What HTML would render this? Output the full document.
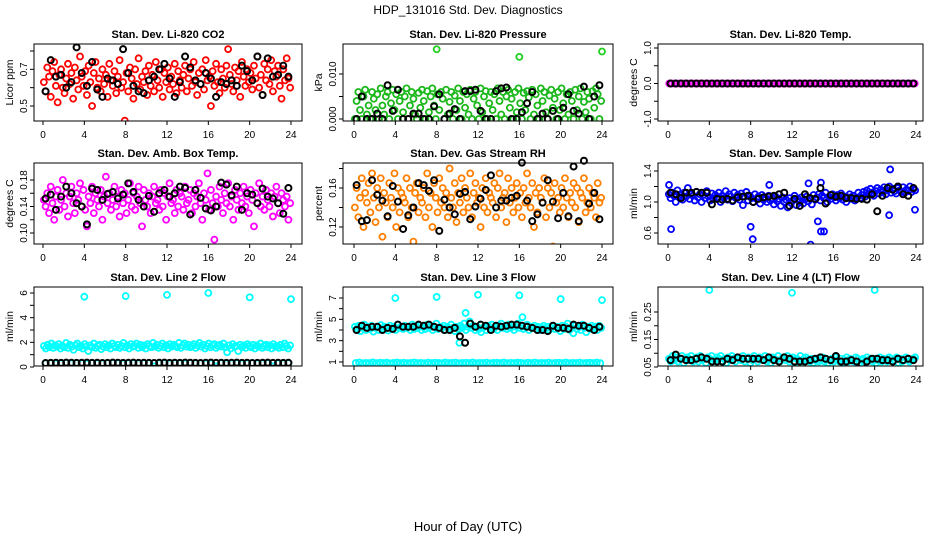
<!DOCTYPE html>
<html><head><meta charset="utf-8"><style>
html,body{margin:0;padding:0;background:#fff}
svg{display:block;font-family:"Liberation Sans",Arial,sans-serif}
</style></head><body>
<svg id="c" width="936" height="540" viewBox="0 0 936 540">
<rect width="936" height="540" fill="#fff"/>
<text x="468" y="14" text-anchor="middle" font-size="12">HDP_131016  Std. Dev. Diagnostics</text>
<text x="468" y="531" text-anchor="middle" font-size="13">Hour of Day (UTC)</text>
</svg>
<script>
// ---- data ----
const co2Main=[.63,.58,.71,.66,.55,.69,.74,.61,.52,.67,.7,.6,.57,.65,.73,.62,.68,.54,.71,.64,.59,.77,.66,.61,.69,.56,.72,.63,.5,.68,.74,.6,.65,.58,.7,.62,.67,.55,.73,.64,
.61,.69,.57,.66,.75,.6,.63,.42,.68,.58,.71,.65,.54,.7,.62,.76,.59,.66,.63,.69,.56,.72,.61,.67,.58,.74,.64,.6,.7,.55,.68,.63,.71,.59,.66,.62,.73,.57,.69,.64,
.6,.67,.72,.58,.65,.7,.61,.74,.63,.56,.68,.62,.7,.59,.75,.64,.66,.5,.69,.61,.73,.63,.57,.7,.65,.6,.72,.81,.67,.62,.58,.71,.64,.69,.55,.74,.66,.61,.7,.63,
.68,.59,.72,.65,.77,.6,.67,.56,.73,.64,.7,.62,.75,.58,.69,.66,.72,.61,.54,.7,.64,.76,.65,.6];
const co2Black=[.58,.75,.66,.67,.6,.63,.82,.68,.61,.74,.59,.55,.65,.64,.62,.81,.68,.61,.58,.57,.64,.66,.7,.73,.65,.55,.63,.77,.71,.64,.62,.68,.65,.55,.63,.62,.64,.61,.72,.69,.64,.77,.56,.76,.66,.67,.72,.66];
const presMain=[0,.004,.006,.002,0,.005,.0065,.001,.003,0,.006,.0045,.002,.0055,0,.0068,.003,.001,.005,.006,0,.0035,.0065,.002,.0055,0,.004,.006,.0015,.005,.0068,0,.003,.006,.0045,.001,0,.0058,.0025,.0065,
.004,0,.0062,.0015,.005,.0068,.003,0,.0055,.002,.006,.0045,0,.0065,.001,.0038,.006,0,.0052,.002,.0068,.004,0,.006,.0025,.0055,.001,.0065,0,.0045,.006,.003,0,.0068,.0015,.005,.0062,0,.0035,.006,
.002,.0055,0,.0068,.004,.001,.006,0,.005,.0065,.0025,.0045,0,.006,.0015,.0068,.0035,0,.0058,.002,.0062,.0048,0,.0065,.001,.0055,.003,0,.0068,.004,.006,.0015,0,.0052,.0065,.0025,.0045,0,.006,.002,
.0068,.0035,0,.0055,.001,.006,.004,0,.0065,.002,.005,.0068,0,.0038,.0015,.006,.0045,0,.0062,.0025,.0068,.0055,0,.004];
const presOutHours=[8,16,24];
const presOutVals=[.0155,.0138,.015];
const presBlack=[0,.005,0,0,.0012,0,.0075,.0018,.0065,0,0,.0012,.0012,0,0,.0028,.0055,0,.0012,.0022,0,.0062,.0062,.0065,.0018,0,0,.0062,.0068,.007,0,0,.0015,.0035,.006,0,.0012,0,.0018,0,.0025,.0055,.0018,.0012,.0072,0,.005,.0075];
const tempMain=[0,0,0,0,0,0,0,0,0,0,0,0,0,0,0,0,0,0,0,0,0,0,0,0,0,0,0,0,0,0,0,0,0,0,0,0,0,0,0,0,0,0,0,0,0,0,0,0,0,0,0,0,0,0,0,0,0,0,0,0,0,0,0,0,0,0,0,0,0,0,0,0,0,0,0,0,0,0,0,0,0,0,0,0,0,0,0,0,0,0,0,0,0,0,0,0];
const tempBlack=[0,0,0,0,0,0,0,0,0,0,0,0,0,0,0,0,0,0,0,0,0,0,0,0,0,0,0,0,0,0,0,0,0,0,0,0,0,0,0,0,0,0,0,0,0,0,0,0];
const ambMain=[.15,.14,.16,.13,.17,.145,.12,.155,.165,.135,.15,.18,.14,.16,.125,.155,.17,.145,.13,.16,.15,.175,.14,.165,.135,.11,.155,.145,.17,.13,.16,.15,.14,.165,.12,.155,.185,.145,.16,.135,
.15,.17,.14,.155,.125,.165,.145,.16,.13,.15,.175,.14,.16,.135,.155,.17,.145,.11,.165,.15,.14,.16,.13,.155,.17,.145,.15,.135,.165,.14,.16,.12,.155,.175,.145,.15,.13,.165,.14,.16,
.155,.135,.17,.145,.15,.165,.13,.16,.14,.155,.175,.145,.12,.16,.15,.19,.135,.165,.145,.09,.155,.14,.17,.15,.13,.16,.145,.175,.14,.155,.12,.165,.15,.135,.16,.145,.17,.14,.155,.13,
.165,.15,.11,.16,.145,.175,.14,.155,.135,.165,.15,.14,.16,.125,.155,.17,.145,.13,.16,.15,.14,.155,.12,.145];
const ambBlack=[.152,.158,.135,.155,.17,.16,.145,.14,.113,.167,.165,.15,.159,.162,.152,.158,.175,.162,.15,.14,.156,.132,.16,.165,.155,.16,.17,.168,.128,.165,.153,.137,.134,.14,.176,.173,.157,.17,.135,.16,.158,.145,.167,.155,.152,.145,.129,.168];
const rhMain=[.14,.16,.13,.15,.17,.12,.155,.145,.165,.135,.175,.15,.125,.16,.14,.17,.11,.155,.145,.13,.165,.15,.14,.175,.12,.16,.135,.155,.15,.145,.17,.13,.16,.14,.105,.155,.165,.135,.15,.145,
.16,.13,.175,.14,.155,.12,.165,.15,.135,.17,.145,.16,.14,.155,.13,.18,.15,.14,.165,.125,.155,.145,.17,.135,.16,.15,.14,.175,.13,.155,.165,.145,.15,.12,.16,.14,.17,.135,.155,.15,
.145,.165,.13,.16,.175,.14,.15,.155,.125,.17,.145,.16,.135,.15,.165,.14,.155,.13,.16,.145,.175,.15,.14,.165,.12,.155,.135,.16,.15,.145,.17,.13,.16,.14,.155,.1,.165,.145,.15,.135,
.16,.14,.17,.15,.13,.155,.145,.165,.14,.16,.125,.155,.15,.17,.135,.145,.16,.14,.155,.15,.13,.165,.145,.15];
const rhBlack=[.163,.126,.127,.168,.153,.147,.131,.162,.146,.118,.132,.14,.165,.163,.157,.168,.116,.148,.14,.133,.154,.156,.128,.141,.149,.158,.173,.14,.147,.147,.15,.152,.186,.147,.126,.133,.145,.168,.146,.129,.155,.131,.182,.126,.188,.144,.155,.128];
const flowMain=[1.1,1.05,1.12,1.08,1.0,1.15,1.06,1.1,1.03,1.12,1.07,1.18,1.04,1.1,1.08,1.02,1.13,1.06,1.1,1.0,1.09,1.05,1.14,1.07,1.02,1.11,1.04,1.09,1.06,1.12,1.0,1.08,1.05,1.14,1.03,1.1,1.07,1.01,1.12,1.05,
1.09,1.03,1.11,0.96,1.07,1.13,1.02,1.08,1.05,1.0,1.1,1.04,1.07,0.98,1.09,1.03,1.06,1.0,1.08,1.02,1.05,0.97,1.07,1.01,1.04,0.95,1.06,1.0,1.03,0.93,1.05,0.99,1.02,1.08,0.96,1.04,1.0,1.06,0.98,1.03,
1.07,1.01,1.05,0.97,1.09,1.03,1.06,1.1,1.02,1.08,1.05,1.12,1.0,1.07,1.04,1.1,1.06,1.02,1.09,1.05,1.11,1.03,1.07,1.0,1.06,1.1,1.04,1.08,1.02,1.06,1.12,1.05,1.09,1.13,1.07,1.15,1.1,1.17,1.12,1.08,
1.14,1.18,1.11,1.16,1.13,1.19,1.1,1.15,1.2,1.12,1.17,1.14,1.11,1.18,1.15,1.13,1.19,1.12,1.16,1.14,1.2,1.13,1.17,1.15];
const flowOutHours=[0.1,0.3,8,8.2,13.8,14.5,14.8,15.1,21.4,21.5,23.9,9.8,13.6,14.8];
const flowOutVals=[1.22,0.65,0.68,0.52,0.45,0.75,0.62,0.62,0.83,1.42,0.9,1.22,1.24,1.25];
const flowBlack=[1.12,1.1,1.05,1.12,1.12,1.13,1.12,1.12,0.97,1.04,1.03,1.04,1.02,1.06,1.07,1.08,1.0,1.04,1.06,1.07,1.08,1.1,1.12,0.95,1.04,0.95,1.1,1.05,1.04,1.18,0.98,1.09,1.07,1.08,1.05,1.05,1.04,1.04,1.03,1.1,0.88,1.08,1.18,1.16,1.2,1.1,1.08,1.18];
const l2Main=[1.7,1.5,1.8,1.6,1.9,1.55,1.75,1.65,1.85,1.5,1.7,1.6,1.95,1.55,1.8,1.65,1.4,1.75,1.9,1.6,1.7,1.5,1.85,1.65,1.3,1.75,1.6,1.9,1.55,1.7,1.8,1.45,1.65,1.85,1.6,1.75,1.5,1.9,1.7,1.6,
1.8,1.55,1.7,1.95,1.6,1.75,1.5,1.85,1.65,1.7,1.9,1.55,1.8,1.6,1.75,1.5,1.85,1.7,1.6,1.95,1.65,1.8,1.55,1.7,1.9,1.6,1.75,1.5,1.85,1.65,1.8,1.7,1.6,1.95,1.55,1.75,1.9,1.65,1.8,1.6,
1.7,1.85,1.55,1.75,1.95,1.65,1.8,1.5,1.7,1.9,1.6,1.75,1.85,1.55,1.7,1.8,1.65,1.9,1.6,1.2,1.75,1.5,1.85,1.65,1.7,1.3,1.8,1.6,1.75,1.55,1.85,1.7,1.6,1.8,1.5,1.75,1.65,1.9,1.55,1.7,
1.8,1.6,1.75,1.5,1.85,1.65,1.7,1.55,1.8,1.6,1.9,1.7,1.5,1.75];
const l2Low=[.3,.32,.28,.3,.33,.29,.31,.3,.27,.32,.3,.29,.31,.33,.3,.28,.3,.32,.29,.31,.3,.05,.3,.32,.28,.31,.3,.29,.32,.3,.31,.28,.3,.05,.32,.29,.3,.31,.28,.3,.32,.29,.3,.31,.05,.3,.29,.32];
const l2OutHours=[4,8,12,16,20,24];
const l2OutVals=[5.7,5.75,5.85,6.0,5.65,5.5];
const l2Black=[.32,.33,.34,.33,.35,.34,.33,.34,.35,.33,.34,.32,.33,.35,.34,.33,.34,.35,.33,.34,.33,.32,.34,.35,.33,.34,.33,.35,.34,.33,.32,.34,.35,.33,.34,.33,.34,.35,.33,.34,.32,.33,.34,.35,.33,.34,.33,.34];
const l3Main=[4.3,4.1,4.4,3.9,4.2,4.5,4.0,4.3,4.1,4.4,3.85,4.2,4.3,4.0,4.45,4.1,4.3,4.2,3.95,4.4,4.1,4.3,4.0,4.5,4.2,4.3,4.1,4.4,4.2,4.3,4.0,4.5,4.1,4.3,4.2,4.4,4.0,4.3,4.1,4.5,
4.2,4.4,4.0,4.3,4.6,4.1,4.3,4.2,4.4,4.0,4.3,4.1,4.5,4.2,3.9,4.3,4.1,4.4,4.2,4.6,4.0,4.3,4.8,4.2,4.4,4.0,4.3,4.1,4.5,4.2,4.3,4.0,4.4,4.2,4.5,4.1,4.3,4.0,4.4,4.6,
4.2,4.3,4.1,4.5,4.2,4.4,4.0,4.3,4.6,4.2,4.4,4.1,4.3,4.5,4.0,4.3,4.2,4.4,4.1,4.3,4.0,4.2,4.4,4.1,4.3,4.0,4.2,4.4,4.1,4.3,4.2,3.9,4.4,4.1,4.3,4.6,4.0,4.2,3.7,4.4,
4.1,4.3,4.0,4.5,4.2,3.8,4.3,4.1,4.4,4.2,4.3,4.0,4.4,4.2];
const l3Low=[.9,.95,.88,.92,.9,.96,.89,.93,.9,.94,.88,.92,.95,.9,.93,.89,.91,.95,.9,.92,.88,.94,.9,.93,.91,.89,.95,.9,.92,.94,.88,.91,.93,.9,.95,.89,.92,.9,.94,.88,.91,.93,.9,.95,.89,.92,.9,.94,
.91,.88,.93,.9,.95,.89,.92,.9,.94,.88,.91,.93,.9,.95,.89,.92,.9,.94,.88,.91,.93,.9,.95,.89];
const l3OutHours=[4,8,12,16,20,24,10.2,10.8,12.3,16.3];
const l3OutVals=[7.0,7.1,7.3,7.25,6.9,6.8,2.8,5.6,3.8,5.2];
const l3Black=[4.0,4.4,4.2,4.3,4.3,4.0,4.2,4.1,4.5,4.3,4.3,4.3,4.5,4.4,4.5,4.3,4.2,4.0,4.0,4.2,3.4,2.8,4.6,4.3,4.5,4.4,4.0,4.4,4.3,4.4,4.5,4.5,4.4,4.3,4.2,4.0,4.0,3.9,4.4,4.2,4.2,4.1,4.5,4.4,4.4,4.2,4.0,4.3];
const l4Main=[.08,.07,.09,.075,.085,.07,.08,.09,.065,.08,.085,.075,.09,.07,.08,.085,.07,.09,.075,.08,.065,.085,.08,.09,.07,.075,.085,.08,.09,.07,.08,.065,.085,.075,.09,.08,.07,.085,.08,.075,
.09,.07,.08,.085,.065,.075,.09,.08,.07,.085,.08,.075,.09,.07,.08,.065,.085,.08,.075,.09,.07,.08,.085,.075,.09,.07,.08,.085,.065,.08,.075,.09,.07,.08,.085,.075,.07,.08,.065,.075,
.08,.07,.075,.085,.07,.08,.065,.075,.08,.07,.085,.075,.07,.08,.065,.075,.085,.07,.08,.075,.07,.085,.08,.065,.075,.08,.07,.085,.075,.08,.07,.08,.065,.075,.085,.07,.08,.075,.07,.085,
.08,.07,.075,.085,.065,.08,.07,.075,.085,.08,.07,.075,.08,.085];
const l4OutHours=[4,12,20];
const l4OutVals=[.33,.32,.33];
const l4Black=[.075,.095,.08,.075,.075,.08,.085,.08,.07,.07,.07,.08,.075,.085,.08,.08,.08,.08,.075,.085,.075,.07,.085,.08,.07,.07,.07,.075,.08,.085,.08,.075,.09,.07,.07,.075,.07,.06,.07,.08,.08,.075,.075,.07,.08,.075,.08,.075];

// ---- layout ----
const cols=[{L:34,R:302,x0:43,x24:291},{L:343,R:613,x0:354,x24:602},{L:658,R:923,x0:668,x24:916}];
const rows=[{T:44,B:121},{T:163,B:244},{T:287,B:366}];
const NS="http://www.w3.org/2000/svg";
const svg=document.getElementById('c');
function mk(tag,attrs,parent){const e=document.createElementNS(NS,tag);for(const k in attrs)e.setAttribute(k,attrs[k]);(parent||svg).appendChild(e);return e;}

function makePanel(o){
  const c=cols[o.col],r=rows[o.row];
  const g=mk('g',{});
  
  
  const sx=h=>c.x0+h*(c.x24-c.x0)/24;
  const sy=v=>o.p0+(v-o.v0)*(o.p1-o.p0)/(o.v1-o.v0);
  const t=mk('text',{x:(c.L+c.R)/2,y:r.T-6,'text-anchor':'middle','font-size':11,'font-weight':'bold'},g);
  t.textContent=o.title;
  
  
  const yl=mk('text',{x:0,y:0,'text-anchor':'middle','font-size':10.5,transform:`translate(${c.L-21},${(r.T+r.B)/2}) rotate(-90)`},g);
  yl.textContent=o.ylab;
  
  
  o.yticks.forEach(v=>{const y=sy(v);mk('line',{x1:c.L-4,x2:c.L,y1:y,y2:y,stroke:'#000','stroke-width':1},g);});
  o.ylabels.forEach((s,i)=>{const y=sy(o.ylabelVals[i]);
    const tl=mk('text',{x:0,y:0,'text-anchor':'middle','font-size':10,transform:`translate(${c.L-7},${y}) rotate(-90)`},g);
    tl.textContent=s;
    
    });
  [0,4,8,12,16,20,24].forEach(h=>{const x=sx(h);
    mk('line',{x1:x,x2:x,y1:r.B,y2:r.B+4,stroke:'#000','stroke-width':1},g);
    const xl=mk('text',{x:x,y:r.B+17,'text-anchor':'middle','font-size':10},g);
    xl.textContent=String(h);
    
    });
  const clip='clip'+o.name;
  const cp=mk('clipPath',{id:clip},g);mk('rect',{x:c.L,y:r.T-8,width:c.R-c.L,height:r.B-r.T+8},cp);
  const pg=mk('g',{'clip-path':`url(#${clip})`},g);
  function series(vals,hours,color,nm,sw){
    const n=vals.length;
    vals.forEach((v,i)=>{
      const h=hours?hours[i]:(i+0.5)*24/n;
      const p=mk('circle',{cx:sx(h),cy:sy(v),r:3,fill:'none',stroke:color,'stroke-width':sw},pg);
      
      
    });
  }
  o.series.forEach(s=>series(s.v,s.h,s.c,s.n,s.c==='#000'?2:1.8));
  mk('rect',{x:c.L,y:r.T,width:c.R-c.L,height:r.B-r.T,fill:'none',stroke:'#000','stroke-width':1},g);
}

makePanel({name:'panel-co2',col:0,row:0,title:'Stan. Dev. Li-820 CO2',ylab:'Licor ppm',v0:0.8,p0:51,v1:0.5,p1:106,
  yticks:[.5,.6,.7,.8],ylabels:['0.5','0.7'],ylabelVals:[.5,.7],
  series:[{v:co2Main,c:'#ff0000',n:'co2-point'},{v:co2Black,c:'#000',n:'co2-black-point'}]});
makePanel({name:'panel-pressure',col:1,row:0,title:'Stan. Dev. Li-820 Pressure',ylab:'kPa',v0:0,p0:119,v1:0.01,p1:74,
  yticks:[0,.005,.01],ylabels:['0.000','0.010'],ylabelVals:[0,.01],
  series:[{v:presMain,c:'#1ab81a',n:'pressure-point'},{v:presOutVals,h:presOutHours,c:'#1fd01f',n:'pressure-outlier'},{v:presBlack,c:'#000',n:'pressure-black-point'}]});
makePanel({name:'panel-temp',col:2,row:0,title:'Stan. Dev. Li-820 Temp.',ylab:'degrees C',v0:1,p0:48,v1:-1,p1:119,
  yticks:[-1,-.5,0,.5,1],ylabels:['-1.0','0.0','1.0'],ylabelVals:[-1,0,1],
  series:[{v:tempMain,c:'#ff00ff',n:'temp-point'},{v:tempBlack,c:'#000',n:'temp-black-point'}]});
makePanel({name:'panel-amb-temp',col:0,row:1,title:'Stan. Dev. Amb. Box Temp.',ylab:'degrees C',v0:0.18,p0:180,v1:0.10,p1:233,
  yticks:[.1,.12,.14,.16,.18],ylabels:['0.10','0.14','0.18'],ylabelVals:[.1,.14,.18],
  series:[{v:ambMain,c:'#ff00ff',n:'amb-temp-point'},{v:ambBlack,c:'#000',n:'amb-temp-black-point'}]});
makePanel({name:'panel-rh',col:1,row:1,title:'Stan. Dev. Gas Stream RH',ylab:'percent',v0:0.16,p0:188,v1:0.12,p1:227,
  yticks:[.12,.14,.16,.18],ylabels:['0.12','0.16'],ylabelVals:[.12,.16],
  series:[{v:rhMain,c:'#ff7f00',n:'rh-point'},{v:rhBlack,c:'#000',n:'rh-black-point'}]});
makePanel({name:'panel-sample-flow',col:2,row:1,title:'Stan. Dev. Sample Flow',ylab:'ml/min',v0:1.4,p0:171,v1:0.6,p1:233,
  yticks:[.6,.8,1,1.2,1.4],ylabels:['0.6','1.0','1.4'],ylabelVals:[.6,1,1.4],
  series:[{v:flowMain,c:'#0000ff',n:'flow-point'},{v:flowOutVals,h:flowOutHours,c:'#0000ff',n:'flow-outlier'},{v:flowBlack,c:'#000',n:'flow-black-point'}]});
makePanel({name:'panel-line2',col:0,row:2,title:'Stan. Dev. Line 2 Flow',ylab:'ml/min',v0:6,p0:293,v1:0,p1:367,
  yticks:[0,1,2,3,4,5,6],ylabels:['0','2','4','6'],ylabelVals:[0,2,4,6],
  series:[{v:l2Main,c:'#00ffff',n:'line2-point'},{v:l2Low,c:'#00ffff',n:'line2-low-point'},{v:l2OutVals,h:l2OutHours,c:'#00ffff',n:'line2-outlier'},{v:l2Black,c:'#000',n:'line2-black-point'}]});
makePanel({name:'panel-line3',col:1,row:2,title:'Stan. Dev. Line 3 Flow',ylab:'ml/min',v0:7,p0:298,v1:1,p1:362,
  yticks:[1,2,3,4,5,6,7],ylabels:['1','3','5','7'],ylabelVals:[1,3,5,7],
  series:[{v:l3Main,c:'#00ffff',n:'line3-point'},{v:l3Low,c:'#00ffff',n:'line3-low-point'},{v:l3OutVals,h:l3OutHours,c:'#00ffff',n:'line3-outlier'},{v:l3Black,c:'#000',n:'line3-black-point'}]});
makePanel({name:'panel-line4',col:2,row:2,title:'Stan. Dev. Line 4 (LT) Flow',ylab:'ml/min',v0:0.25,p0:312,v1:0.05,p1:367,
  yticks:[.05,.1,.15,.2,.25],ylabels:['0.05','0.15','0.25'],ylabelVals:[.05,.15,.25],
  series:[{v:l4Main,c:'#00ffff',n:'line4-point'},{v:l4OutVals,h:l4OutHours,c:'#00ffff',n:'line4-outlier'},{v:l4Black,c:'#000',n:'line4-black-point'}]});
</script>
</body></html>
